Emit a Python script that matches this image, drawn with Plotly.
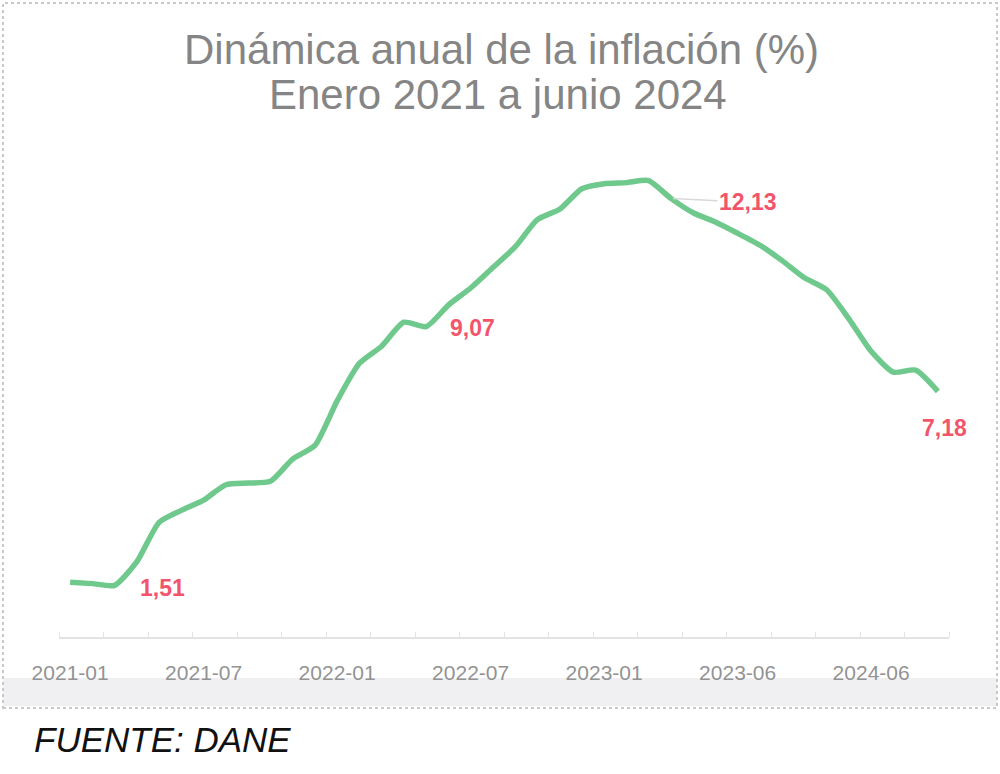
import plotly.graph_objects as go

# ---- data ----
tick_labels = ["2021-01", "2021-07", "2022-01", "2022-07", "2023-01", "2023-06", "2024-06"]
tick_every = 6
inflation = [1.60, 1.56, 1.51, 2.20, 3.35, 3.70, 4.00, 4.45, 4.50, 4.55,
             5.20, 5.60, 6.90, 8.00, 8.50, 9.20, 9.07, 9.70, 10.20, 10.80,
             11.40, 12.20, 12.50, 13.10, 13.25, 13.28, 13.34, 12.82, 12.40, 12.13,
             11.80, 11.45, 11.00, 10.50, 10.15, 9.30, 8.35, 7.74, 7.80, 7.18]
label_points = [2, 16, 27, 39]
label_texts = ["1,51", "9,07", "12,13", "7,18"]

idx = list(range(len(inflation)))
tickvals = [i * tick_every for i in range(len(tick_labels))]

# ---- layout geometry (pixels) ----
W, H = 1000, 774
L, R = 59, 949
T, B = 158, 637

def px(xp):
    return (xp - L) / (R - L)

def py(yp):
    return (B - yp) / (B - T)

fig = go.Figure()
fig.add_trace(go.Scatter(
    x=idx, y=inflation, mode="lines",
    line=dict(color="rgb(111,201,140)", width=5.5, shape="spline", smoothing=0.6),
    hoverinfo="x+y", showlegend=False,
))

red = "#f2556b"
lab_font = dict(family="Liberation Sans", size=23, color=red)
offsets = {2: (48, -3, False), 16: (46, -1, False), 27: (None, None, True), 39: (7, -37, False)}
for p, t in zip(label_points, label_texts):
    xs, ys, arrow = offsets[p]
    if arrow:
        fig.add_annotation(x=p, y=inflation[p], text="<b>" + t + "</b>", font=lab_font,
                           showarrow=True, ax=77, ay=4, arrowhead=0, arrowwidth=1.5,
                           arrowcolor="#d8d8d8", standoff=2, xref="x", yref="y")
    else:
        fig.add_annotation(x=p, y=inflation[p], text="<b>" + t + "</b>", font=lab_font,
                           showarrow=False, xshift=xs, yshift=ys, xref="x", yref="y")

title_font = dict(family="Liberation Sans", size=42, color="#858585")
fig.add_annotation(x=px(501), y=py(49), xref="paper", yref="paper", showarrow=False,
                   text="Dinámica anual de la inflación (%)", font=title_font,
                   xanchor="center", yanchor="middle")
fig.add_annotation(x=px(498), y=py(95), xref="paper", yref="paper", showarrow=False,
                   text="Enero 2021 a junio 2024", font=title_font,
                   xanchor="center", yanchor="middle")
fig.add_annotation(x=px(32), y=py(739), xref="paper", yref="paper", showarrow=False,
                   text="<i>FUENTE: DANE</i>",
                   font=dict(family="Liberation Sans", size=35, color="#111111"),
                   xanchor="left", yanchor="middle")

# gray band and dotted frame
fig.add_shape(type="rect", xref="paper", yref="paper", x0=px(3), x1=px(997),
              y0=py(706), y1=py(678), fillcolor="#f0f0f2", line=dict(width=0), layer="below")
fig.add_shape(type="rect", xref="paper", yref="paper", x0=px(3), x1=px(997),
              y0=py(708), y1=py(3), fillcolor="rgba(0,0,0,0)",
              line=dict(color="#c9c9c9", width=2, dash="dot"), layer="below")

fig.update_layout(
    width=W, height=H,
    margin=dict(l=L, r=W - R, t=T, b=H - B),
    paper_bgcolor="white", plot_bgcolor="white",
    xaxis=dict(range=[-0.5, len(inflation) - 0.5], tickmode="array", tickvals=tickvals,
               ticktext=tick_labels, showgrid=False, zeroline=False,
               showline=True, linecolor="#e3e3e3", linewidth=2, ticks="",
               ticklabelstandoff=16,
               tickfont=dict(family="Liberation Sans", size=21, color="#939393"),
               minor=dict(tickmode="linear", tick0=-0.5, dtick=2, ticks="inside",
                          ticklen=5, tickcolor="#e3e3e3", showgrid=False)),
    yaxis=dict(range=[0, 14], visible=False, showgrid=False, zeroline=False),
)

fig.write_html("out.html", config={"displayModeBar": False},
               post_script="document.body.style.margin='0';document.body.style.padding='0';")
